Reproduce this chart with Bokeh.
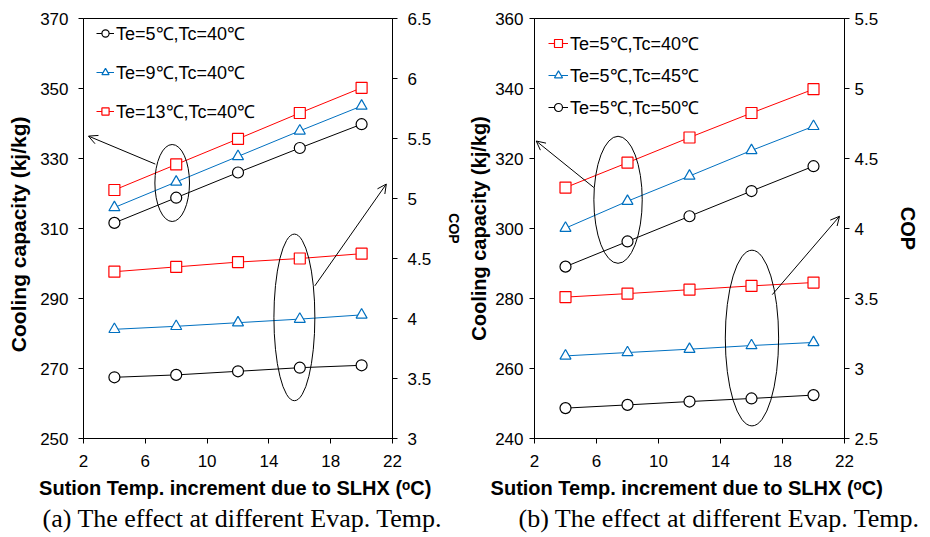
from bokeh.plotting import figure
from bokeh.models import (Range1d, LinearAxis, FixedTicker, NumeralTickFormatter,
                          Arrow, OpenHead, Legend, LegendItem, Title)
from bokeh.layouts import row
from bokeh.embed import file_html
from bokeh.resources import INLINE

# ---------------- data ----------------
x_vals = [4, 8, 12, 16, 20]
x_ticks = [2, 6, 10, 14, 18, 22]
x_title = "Sution Temp. increment due to SLHX  (\u1d52C)"

# panel (a): different evaporating temperature
a_labels = ["Te=5\u2103,Tc=40\u2103", "Te=9\u2103,Tc=40\u2103", "Te=13\u2103,Tc=40\u2103"]
a_cap_te5 = [311.6, 318.8, 326.0, 333.0, 339.8]
a_cap_te9 = [316.0, 323.3, 330.6, 337.9, 345.0]
a_cap_te13 = [321.0, 328.3, 335.6, 343.0, 350.2]
a_cop_te5 = [3.51, 3.53, 3.56, 3.59, 3.61]
a_cop_te9 = [3.91, 3.935, 3.965, 3.995, 4.03]
a_cop_te13 = [4.39, 4.43, 4.47, 4.50, 4.54]
a_cap_ticks = [250, 270, 290, 310, 330, 350, 370]
a_cop_ticks = [3, 3.5, 4, 4.5, 5, 5.5, 6, 6.5]
a_ytitle = "Cooling  capacity  (kj/kg)"
a_caption = "(a) The effect at different Evap. Temp."

# panel (b): different condensing temperature
b_labels = ["Te=5\u2103,Tc=40\u2103", "Te=5\u2103,Tc=45\u2103", "Te=5\u2103,Tc=50\u2103"]
b_cap_tc40 = [311.7, 318.8, 326.0, 333.0, 339.8]
b_cap_tc45 = [300.1, 307.8, 315.0, 322.3, 329.2]
b_cap_tc50 = [289.1, 296.3, 303.5, 310.7, 317.8]
b_cop_tc40 = [3.51, 3.535, 3.563, 3.59, 3.614]
b_cop_tc45 = [3.09, 3.114, 3.138, 3.164, 3.186]
b_cop_tc50 = [2.717, 2.74, 2.764, 2.786, 2.81]
b_cap_ticks = [240, 260, 280, 300, 320, 340, 360]
b_cop_ticks = [2.5, 3, 3.5, 4, 4.5, 5, 5.5]
b_ytitle = "Cooling capacity (kj/kg)"
b_caption = "(b) The effect at different Evap. Temp."

# annotation ellipses / arrows (data coordinates on the capacity axis)
a_ell_x = [7.74, 15.65]
a_ell_y = [323.0, 284.6]
a_ell_w = [2.24, 2.65]
a_ell_h = [22.0, 47.6]
a_arrows = [(6.65, 328.4, 2.32, 336.4), (16.97, 293.6, 21.6, 322.7)]

b_ell_x = [7.39, 16.03]
b_ell_y = [308.2, 268.7]
b_ell_w = [3.12, 3.44]
b_ell_h = [36.3, 50.2]
b_arrows = [(5.83, 311.7, 2.11, 325.0), (17.34, 281.1, 21.68, 303.5)]

RED = "#FF0000"
BLUE = "#0070C0"
BLACK = "#000000"
SANS = "Liberation Sans"
SERIF = "Liberation Serif"


def style_axis(ax, ticks, standoff=10):
    ax.ticker = FixedTicker(ticks=ticks)
    ax.major_tick_in = 0
    ax.major_tick_out = 5
    ax.minor_tick_in = 0
    ax.minor_tick_out = 0
    ax.axis_line_color = "black"
    ax.axis_line_width = 1
    ax.major_tick_line_color = "black"
    ax.major_label_text_font = SANS
    ax.major_label_text_font_size = "17px"
    ax.major_label_text_color = "black"
    ax.major_label_standoff = standoff
    ax.axis_label_text_font = SANS
    ax.axis_label_text_font_style = "bold"
    ax.axis_label_text_color = "black"


def make_panel(cap_range, cop_range, cap_ticks, cop_ticks, series, labels,
               ell, arrows, borders, legend_loc, legend_spacing, glyph_w,
               ytitle, ypar, coppar, caption, cap_offset):
    left, right, top, bottom = borders
    p = figure(width=465, height=537, output_backend="svg",
               toolbar_location=None,
               x_range=Range1d(2, 22), y_range=Range1d(*cap_range),
               min_border_left=left, min_border_right=right,
               min_border_top=top, min_border_bottom=bottom,
               background_fill_color="white", border_fill_color="white")
    p.extra_y_ranges = {"cop": Range1d(*cop_range)}
    p.xgrid.grid_line_color = None
    p.ygrid.grid_line_color = None
    p.outline_line_color = "black"
    p.outline_line_width = 1

    xa = p.xaxis[0]
    style_axis(xa, x_ticks, standoff=11)
    xa.axis_label = x_title
    xa.axis_label_text_font_size = "20px"
    xa.axis_label_standoff = 7

    ya = p.yaxis[0]
    style_axis(ya, cap_ticks, standoff=ypar[0])
    ya.axis_label = ytitle
    ya.axis_label_text_font_size = ypar[2]
    ya.axis_label_standoff = ypar[1]

    rax = LinearAxis(y_range_name="cop")
    style_axis(rax, cop_ticks, standoff=coppar[0])
    rax.formatter = NumeralTickFormatter(format="0.[0]")
    rax.axis_label = "COP"
    rax.axis_label_text_font_size = coppar[2]
    rax.axis_label_standoff = coppar[1]
    p.add_layout(rax, "right")

    items = []
    for (cap, cop, color, marker), lab in zip(series, labels):
        l1 = p.line(x_vals, cap, line_color=color, line_width=1)
        s1 = p.scatter(x_vals, cap, marker=marker, size=11, line_color=color,
                       fill_color="white", line_width=1.2)
        p.line(x_vals, cop, line_color=color, line_width=1, y_range_name="cop")
        p.scatter(x_vals, cop, marker=marker, size=11, line_color=color,
                  fill_color="white", line_width=1.2, y_range_name="cop")
        items.append(LegendItem(label=lab, renderers=[l1, s1]))

    ex, ey, ew, eh = ell
    p.ellipse(ex, ey, width=ew, height=eh, fill_color=None,
              line_color="black", line_width=1)
    for (xs, ys, xe, ye) in arrows:
        p.add_layout(Arrow(end=OpenHead(size=9, line_width=1, line_color="black"),
                           x_start=xs, y_start=ys, x_end=xe, y_end=ye,
                           line_width=1, line_color="black"))

    legend = Legend(items=items, location=legend_loc, border_line_color=None,
                    background_fill_alpha=0, glyph_width=glyph_w, glyph_height=20,
                    label_height=26, spacing=legend_spacing, padding=0, margin=0,
                    label_standoff=2, label_text_font=SANS,
                    label_text_font_size="18px", label_text_color="black")
    p.add_layout(legend)

    p.add_layout(Title(text=caption, text_font=SERIF, text_font_size="26px",
                       text_font_style="normal", text_color="black",
                       align="left", offset=cap_offset, standoff=0), "below")
    return p


pa = make_panel(
    (250, 370), (3, 6.5), a_cap_ticks, a_cop_ticks,
    [(a_cap_te5, a_cop_te5, BLACK, "circle"),
     (a_cap_te9, a_cop_te9, BLUE, "triangle"),
     (a_cap_te13, a_cop_te13, RED, "square")],
    a_labels, (a_ell_x, a_ell_y, a_ell_w, a_ell_h), a_arrows,
    (83, 71, 18, 99), (13, 314), 13, 18,
    a_ytitle, (10, 7, "21px"), (10, 12, "14px"), a_caption, -41)

pb = make_panel(
    (240, 360), (2.5, 5.5), b_cap_ticks, b_cop_ticks,
    [(b_cap_tc40, b_cop_tc40, RED, "square"),
     (b_cap_tc45, b_cop_tc45, BLUE, "triangle"),
     (b_cap_tc50, b_cop_tc50, BLACK, "circle")],
    b_labels, (b_ell_x, b_ell_y, b_ell_w, b_ell_h), b_arrows,
    (69, 86, 18, 99), (14, 318), 6, 20,
    b_ytitle, (6, 2, "20px"), (5, 16, "20px"), b_caption, -16)

layout = row(pa, pb)
open("out.html", "w").write(file_html(layout, INLINE))
